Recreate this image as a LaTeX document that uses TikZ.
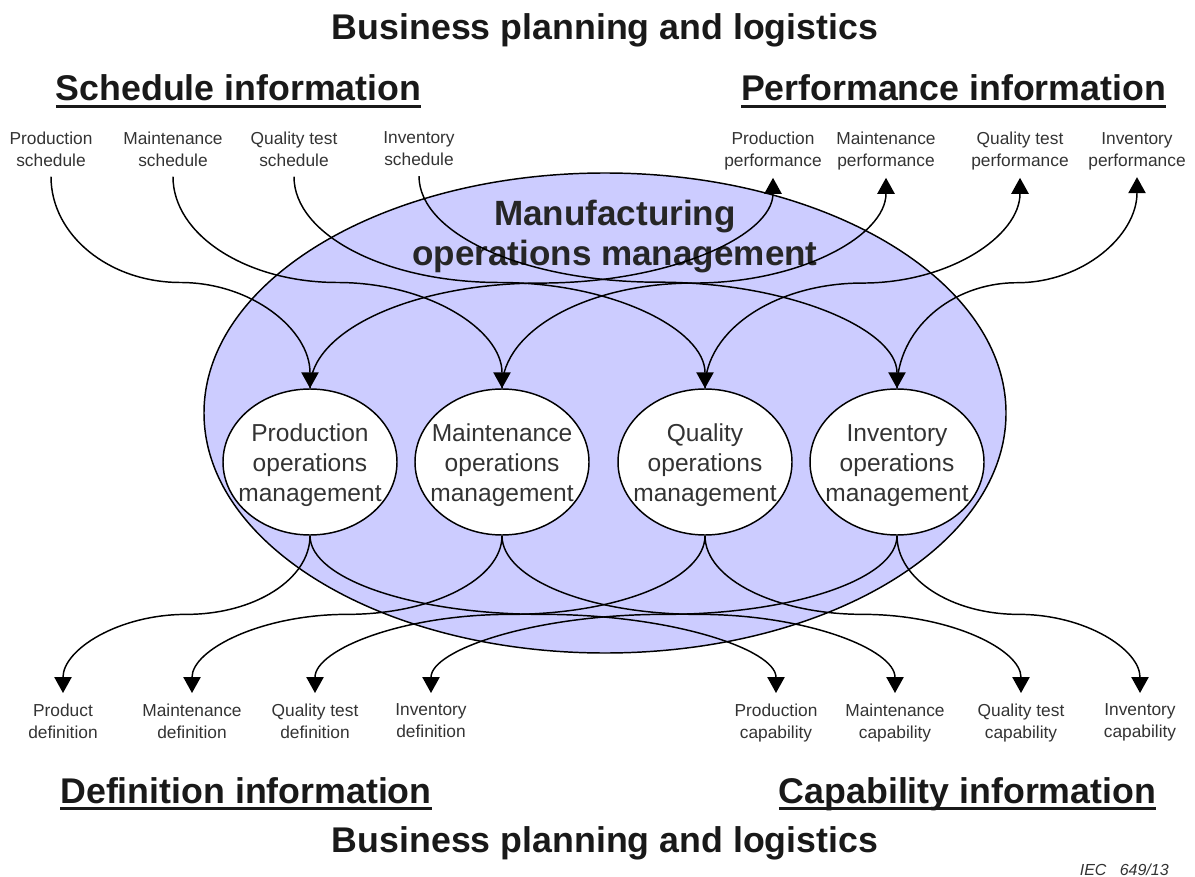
\documentclass[tikz,border=0pt]{standalone}
\usepackage{fontspec}
\setmainfont{Liberation Sans}
\usepackage{xcolor}
\usetikzlibrary{shapes.geometric, arrows.meta, calc}

\definecolor{mfgfill}{HTML}{CCCCFF}
\definecolor{labeltext}{HTML}{333333}

\newsavebox{\infobox}
\newcommand{\ulinfo}[1]{\sbox{\infobox}{#1}\rlap{\rule[-5pt]{\wd\infobox}{2.3pt}}\usebox{\infobox}}

\begin{document}
\begin{tikzpicture}[
    x=0.75pt, y=0.75pt,
    bigtitle/.style={font=\bfseries\fontsize{26.8}{32}\selectfont, text=black!90, inner sep=0pt, anchor=base},
    mfgell/.style={ellipse, draw, line width=1.1pt, fill=mfgfill, minimum width=601.5pt, minimum height=360pt, inner sep=0pt},
    mfgtitle/.style={font=\bfseries\fontsize{26.3}{30}\selectfont, text=black!85, align=center, inner sep=0pt, anchor=north},
    opsell/.style={ellipse, draw, line width=1.1pt, fill=white, minimum width=130.5pt, minimum height=109.5pt, inner xsep=-8pt, inner ysep=0pt, align=center, font=\fontsize{18.4}{22.5}\selectfont, text=labeltext},
    infolabel/.style={font=\fontsize{13}{16.5}\selectfont, text=labeltext, align=center, inner sep=0pt, anchor=north},
    schedlabel/.style={infolabel, outer sep=7.5pt},
    perflabel/.style={infolabel, outer sep=5.5pt},
    botlabel/.style={infolabel, outer sep=8.25pt},
    scurve/.style={to path={let \p1=(\tikztostart), \p2=(\tikztotarget), \p3=({(\x1+\x2)/2},{(\y1+\y2)/2}) in
        .. controls (\x1,{\y1+0.552*(\y3-\y1)}) and ({\x3+0.552*(\x1-\x3)},\y3) .. (\p3)
        .. controls ({\x3+0.552*(\x2-\x3)},\y3) and (\x2,{\y2+0.552*(\y3-\y2)}) .. (\p2)}},
    flow/.style={-{Triangle[width=13pt, length=12pt]}, line width=1.1pt, scurve}
]
\useasboundingbox (0,0) rectangle (1195,-877);

% Titles
\node[bigtitle] (bpltop) at (605,-40) {Business planning and logistics};
\node[bigtitle] (bplbot) at (605,-852) {Business planning and logistics};
\node[bigtitle] (schedinfo) at (238.5,-101) {\ulinfo{Schedule information}};
\node[bigtitle] (perfinfo) at (953.5,-101) {\ulinfo{Performance information}};
\node[bigtitle] (definfo) at (246,-803) {\ulinfo{Definition information}};
\node[bigtitle] (capinfo) at (967.5,-803) {\ulinfo{Capability information}};

% Manufacturing operations management
\node[mfgell] (mfg) at (605,-413) {};
\node[mfgtitle] (mfgtext) at (615,-200) {Manufacturing\\operations management};

% Operations management areas
\node[opsell] (prodom) at (310,-462) {\rule{0pt}{17.5pt}Production\\operations\\management};
\node[opsell] (maintom) at (502,-462) {\rule{0pt}{17.5pt}Maintenance\\operations\\management};
\node[opsell] (qualom) at (705,-462) {\rule{0pt}{17.5pt}Quality\\operations\\management};
\node[opsell] (invom) at (897,-462) {\rule{0pt}{17.5pt}Inventory\\operations\\management};

% Schedule information
\node[schedlabel] (prodsched) at (51,-122) {Production\\schedule};
\node[schedlabel] (maintsched) at (173,-122) {Maintenance\\schedule};
\node[schedlabel] (qualsched) at (294,-122) {Quality test\\schedule};
\node[schedlabel] (invsched) at (419,-122) {Inventory\\schedule};

% Performance information
\node[perflabel] (prodperf) at (773,-125) {Production\\performance};
\node[perflabel] (maintperf) at (886,-125) {Maintenance\\performance};
\node[perflabel] (qualperf) at (1020,-125) {Quality test\\performance};
\node[perflabel] (invperf) at (1137,-125) {Inventory\\performance};

% Definition information
\node[botlabel] (proddef) at (63,-693) {Product\\definition};
\node[botlabel] (maintdef) at (192,-693) {Maintenance\\definition};
\node[botlabel] (qualdef) at (315,-693) {Quality test\\definition};
\node[botlabel] (invdef) at (431,-693) {Inventory\\definition};

% Capability information
\node[botlabel] (prodcap) at (776,-693) {Production\\capability};
\node[botlabel] (maintcap) at (895,-693) {Maintenance\\capability};
\node[botlabel] (qualcap) at (1021,-693) {Quality test\\capability};
\node[botlabel] (invcap) at (1140,-693) {Inventory\\capability};

% Schedules in
\draw[flow] (prodsched.south) to (prodom.north);
\draw[flow] (maintsched.south) to (maintom.north);
\draw[flow] (qualsched.south) to (qualom.north);
\draw[flow] (invsched.south) to (invom.north);

% Performance out
\draw[flow] (prodom.north) to (prodperf.south);
\draw[flow] (maintom.north) to (maintperf.south);
\draw[flow] (qualom.north) to (qualperf.south);
\draw[flow] (invom.north) to (invperf.south);

% Definitions out
\draw[flow] (prodom.south) to (proddef.north);
\draw[flow] (maintom.south) to (maintdef.north);
\draw[flow] (qualom.south) to (qualdef.north);
\draw[flow] (invom.south) to (invdef.north);

% Capabilities out
\draw[flow] (prodom.south) to (prodcap.north);
\draw[flow] (maintom.south) to (maintcap.north);
\draw[flow] (qualom.south) to (qualcap.north);
\draw[flow] (invom.south) to (invcap.north);

% Figure reference
\node[font=\itshape\fontsize{12}{14}\selectfont, text=labeltext, anchor=base east, inner sep=0pt] (iecref) at (1169,-875) {IEC\ \ \ 649/13};

\end{tikzpicture}
\end{document}
